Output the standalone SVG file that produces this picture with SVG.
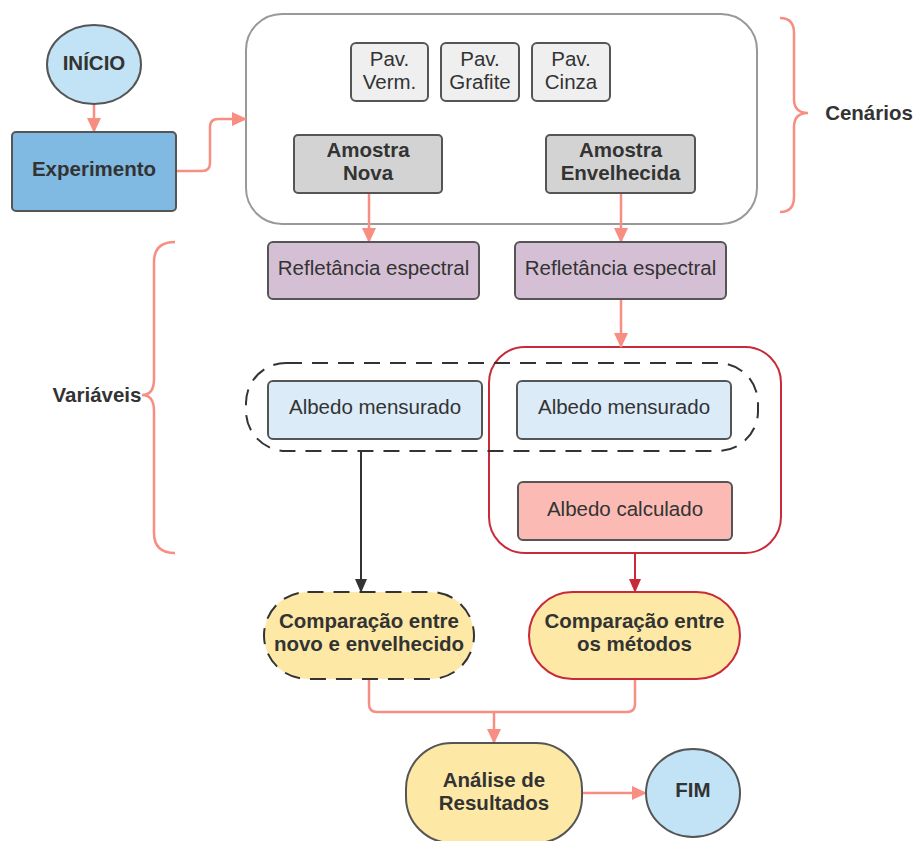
<svg xmlns="http://www.w3.org/2000/svg" width="916" height="841" viewBox="0 0 916 841">
  <defs>
    <style>
      text { font-family: "Liberation Sans", Arial, sans-serif; font-size: 20.5px; fill: #333; text-anchor: middle; }
      .b { font-weight: bold; }
      .node { stroke: #555; stroke-width: 2; }
      .conn { fill: none; stroke: #f88e82; stroke-width: 2.5; }
      .brace { fill: none; stroke: #f88e82; stroke-width: 2.5; }
    </style>
    <marker id="ah" viewBox="0 0 15 14" refX="14" refY="7" markerWidth="15" markerHeight="14" markerUnits="userSpaceOnUse" orient="auto">
      <path d="M0,0 L15,7 L0,14 Z" fill="#f88e82"/>
    </marker>
    <marker id="ahBlack" viewBox="0 0 14 12" refX="13" refY="6" markerWidth="14" markerHeight="12" markerUnits="userSpaceOnUse" orient="auto">
      <path d="M0,0 L14,6 L0,12 Z" fill="#333"/>
    </marker>
    <marker id="ahRed" viewBox="0 0 14 12" refX="13" refY="6" markerWidth="14" markerHeight="12" markerUnits="userSpaceOnUse" orient="auto">
      <path d="M0,0 L14,6 L0,12 Z" fill="#c92a3a"/>
    </marker>
  </defs>

  <rect width="916" height="841" fill="#fff"/>

  <!-- scenario container -->
  <g id="cenarios">
    <rect x="246" y="14" width="511" height="210" rx="36" fill="#fff" stroke="#999" stroke-width="2"/>
    <path class="brace" d="M780,18 Q794,18 794,33 L794,99 Q794,113 808,113 Q794,113 794,127 L794,197 Q794,212 780,212"/>
    <text class="b" x="869" y="120">Cenários</text>
  </g>

  <!-- variables brace -->
  <g id="variaveis">
    <path class="brace" d="M175,242 Q154,242 154,262 L154,379 Q154,395 142,395 Q154,395 154,411 L154,533 Q154,553 175,553"/>
    <text class="b" x="97" y="402">Variáveis</text>
  </g>

  <!-- method comparison group -->
  <g id="grupo-metodos">
    <rect x="489" y="347" width="292" height="206" rx="36" fill="none" stroke="#c92a3a" stroke-width="2"/>
  </g>

  <!-- measured albedo group -->
  <g id="grupo-mensurado">
    <rect x="246" y="363" width="512" height="88" rx="40" fill="none" stroke="#333" stroke-width="2" stroke-dasharray="16 10"/>
  </g>

  <!-- connectors -->
  <g id="connectors">
    <path class="conn" d="M94,104 V132" marker-end="url(#ah)"/>
    <path class="conn" d="M176,171 H202 Q210,171 210,163 V127 Q210,119 218,119 H246" marker-end="url(#ah)"/>
    <path class="conn" d="M369,193 V242" marker-end="url(#ah)"/>
    <path class="conn" d="M621,193 V242" marker-end="url(#ah)"/>
    <path class="conn" d="M621,299 V347" marker-end="url(#ah)"/>
    <path d="M361,451 V592" fill="none" stroke="#333" stroke-width="2" marker-end="url(#ahBlack)"/>
    <path d="M635,553 V592" fill="none" stroke="#c92a3a" stroke-width="2" marker-end="url(#ahRed)"/>
    <path class="conn" d="M369,679 V704 Q369,712 377,712 H627 Q635,712 635,704 V679"/>
    <path class="conn" d="M494,712 V743" marker-end="url(#ah)"/>
    <path class="conn" d="M582,793 H646" marker-end="url(#ah)"/>
  </g>

  <g id="inicio">
    <ellipse class="node" cx="94" cy="64.5" rx="47" ry="39.5" fill="#c2e3f5"/>
    <text class="b" x="94" y="70">INÍCIO</text>
  </g>

  <g id="experimento">
    <rect class="node" x="12" y="132" width="164" height="79" rx="4" fill="#80b9e2"/>
    <text class="b" x="94" y="176">Experimento</text>
  </g>

  <g id="pav-verm">
    <rect class="node" x="351" y="43" width="77" height="58" rx="5" fill="#efefef" stroke="#777"/>
    <text x="389.5" y="66">Pav.</text>
    <text x="389.5" y="89">Verm.</text>
  </g>
  <g id="pav-grafite">
    <rect class="node" x="441" y="43" width="78" height="58" rx="5" fill="#efefef" stroke="#777"/>
    <text x="480" y="66">Pav.</text>
    <text x="480" y="89">Grafite</text>
  </g>
  <g id="pav-cinza">
    <rect class="node" x="532" y="43" width="78" height="58" rx="5" fill="#efefef" stroke="#777"/>
    <text x="571" y="66">Pav.</text>
    <text x="571" y="89">Cinza</text>
  </g>

  <g id="amostra-nova">
    <rect class="node" x="294" y="135" width="148" height="58" rx="4" fill="#d3d3d3"/>
    <text class="b" x="368" y="157">Amostra</text>
    <text class="b" x="368" y="180">Nova</text>
  </g>
  <g id="amostra-envelhecida">
    <rect class="node" x="546" y="135" width="149" height="58" rx="4" fill="#d3d3d3"/>
    <text class="b" x="620.5" y="157">Amostra</text>
    <text class="b" x="620.5" y="180">Envelhecida</text>
  </g>

  <g id="refletancia-nova">
    <rect class="node" x="268" y="242" width="211" height="57" rx="5" fill="#d5bfd5"/>
    <text x="373.5" y="275">Refletância espectral</text>
  </g>
  <g id="refletancia-envelhecida">
    <rect class="node" x="515" y="242" width="211" height="57" rx="5" fill="#d5bfd5"/>
    <text x="620.5" y="275">Refletância espectral</text>
  </g>

  <g id="albedo-mensurado-nova">
    <rect class="node" x="268" y="381" width="214" height="58" rx="5" fill="#dbebf8"/>
    <text x="375" y="414">Albedo mensurado</text>
  </g>
  <g id="albedo-mensurado-envelhecida">
    <rect class="node" x="517" y="381" width="214" height="58" rx="5" fill="#dbebf8"/>
    <text x="624" y="414">Albedo mensurado</text>
  </g>
  <g id="albedo-calculado">
    <rect class="node" x="518" y="482" width="214" height="58" rx="5" fill="#fbbbb4"/>
    <text x="625" y="516">Albedo calculado</text>
  </g>

  <g id="comparacao-envelhecimento">
    <rect x="264" y="592" width="210" height="87" rx="43.5" fill="#fde9a5" stroke="#333" stroke-width="2" stroke-dasharray="16 10"/>
    <text class="b" x="369" y="628">Comparação entre</text>
    <text class="b" x="369" y="651">novo e envelhecido</text>
  </g>
  <g id="comparacao-metodos">
    <rect x="529" y="592" width="211" height="87" rx="43.5" fill="#fde9a5" stroke="#c92a3a" stroke-width="2"/>
    <text class="b" x="634.5" y="628">Comparação entre</text>
    <text class="b" x="634.5" y="651">os métodos</text>
  </g>

  <g id="analise">
    <rect class="node" x="406" y="743" width="176" height="100" rx="46" fill="#fde9a5"/>
    <text class="b" x="494" y="787">Análise de</text>
    <text class="b" x="494" y="810">Resultados</text>
  </g>

  <g id="fim">
    <ellipse class="node" cx="693" cy="793" rx="47" ry="44" fill="#c2e3f5"/>
    <text class="b" x="693" y="797">FIM</text>
  </g>
</svg>
